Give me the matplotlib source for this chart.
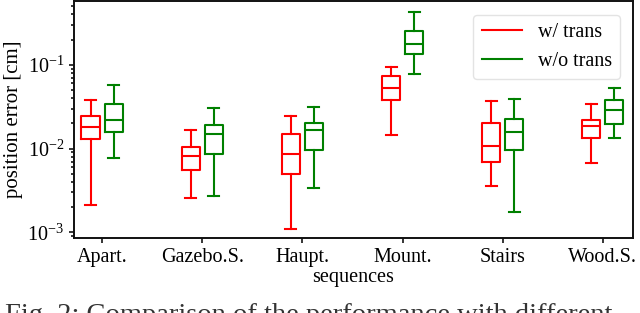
import matplotlib
matplotlib.use("Agg")
import matplotlib.pyplot as plt
from matplotlib.lines import Line2D

plt.rcParams['font.family'] = ['Liberation Serif', 'DejaVu Serif']
plt.rcParams['mathtext.fontset'] = 'custom'
plt.rcParams['mathtext.rm'] = 'Liberation Serif'
plt.rcParams['mathtext.it'] = 'Liberation Serif:italic'

categories = ["Apart.", "Gazebo.S.", "Haupt.", "Mount.", "Stairs", "Wood.S."]
series = ["w/ trans", "w/o trans"]
colors = ["#ff0000", "#008000"]

# whisker low, Q1, median, Q3, whisker high
w_low  = [0.00209, 0.00255, 0.00110, 0.0147, 0.00356, 0.00665]
w_q1   = [0.0129, 0.00558, 0.00500, 0.0381, 0.00689, 0.0135]
w_med  = [0.0183, 0.00807, 0.00853, 0.0526, 0.0108, 0.0186]
w_q3   = [0.0245, 0.0104, 0.0151, 0.0732, 0.0204, 0.0222]
w_high = [0.0378, 0.0165, 0.0243, 0.0938, 0.0365, 0.0345]

o_low  = [0.00764, 0.00273, 0.00336, 0.078, 0.00175, 0.0135]
o_q1   = [0.0159, 0.00869, 0.0097, 0.1334, 0.00953, 0.0199]
o_med  = [0.0219, 0.0149, 0.0165, 0.177, 0.0158, 0.0286]
o_q3   = [0.0336, 0.0191, 0.0202, 0.255, 0.0224, 0.0378]
o_high = [0.0582, 0.0305, 0.0314, 0.431, 0.0386, 0.0535]

caption = "Fig. 2: Comparison of the performance with different"

data = [
    (w_low, w_q1, w_med, w_q3, w_high),
    (o_low, o_q1, o_med, o_q3, o_high),
]

fig = plt.figure(figsize=(6.4, 3.13), dpi=100)
ax = fig.add_axes([0.1156, 0.240, 0.8734, 0.757])

offsets = [-0.115, 0.115]
positions_base = list(range(1, len(categories) + 1))
for k, (lo, q1, med, q3, hi) in enumerate(data):
    stats = []
    for i in range(len(categories)):
        stats.append(dict(whislo=lo[i], q1=q1[i], med=med[i], q3=q3[i],
                          whishi=hi[i], fliers=[], label=categories[i]))
    pos = [p + offsets[k] for p in positions_base]
    c = colors[k]
    lp = dict(color=c, linewidth=1.5)
    ax.bxp(stats, positions=pos, widths=0.18, showfliers=False,
           boxprops=lp, whiskerprops=lp, capprops=lp, medianprops=lp,
           capwidths=0.11, manage_ticks=False)

ax.set_yscale('log')
ax.set_ylim(8.57e-4, 0.58)
ax.set_xlim(0.72, 6.30)
ax.set_xticks(positions_base)
ax.set_xticklabels(categories, fontsize=14.5)
ax.tick_params(axis='y', labelsize=14.5)
ax.tick_params(which='both', width=1.1)
ax.set_xlabel("sequences", fontsize=14.5, labelpad=1)
ax.set_ylabel("position error [cm]", fontsize=15, labelpad=3)
for s in ax.spines.values():
    s.set_linewidth(1.4)
    s.set_color('#111111')

handles = [Line2D([0], [0], color=colors[k], lw=1.5) for k in range(2)]
ax.legend(handles, series, loc='upper right', fontsize=14.5,
          bbox_to_anchor=(0.995, 0.985), edgecolor='#dddddd')

fig.text(0.008, 1 - 303 / 313, caption, fontsize=20.5, va='top', ha='left',
         color='#333333')

fig.savefig("out.png", dpi=100)
